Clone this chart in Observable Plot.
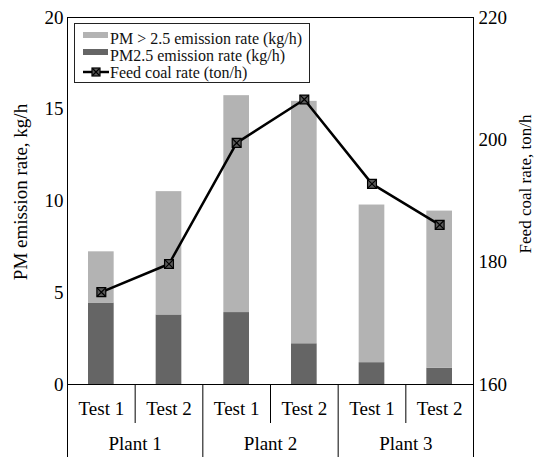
<!DOCTYPE html>
<html><head><meta charset="utf-8">
<script src="https://cdn.jsdelivr.net/npm/d3@7"></script>
<script src="https://cdn.jsdelivr.net/npm/@observablehq/plot@0.6"></script>
<style>
html,body{margin:0;padding:0;background:#fff;}
#wrap{position:relative;width:537px;height:457px;font-family:"Liberation Serif","DejaVu Serif","Noto Serif","Times New Roman",serif;color:#000;}
#wrap svg{display:block;}
.abs{position:absolute;}
.lg-box{left:74px;top:23px;width:236px;height:60px;border:1px solid #222;box-sizing:border-box;}
.lg-text{left:110px;font-size:16px;line-height:17px;white-space:nowrap;color:#111;}
.sw{left:83px;width:25px;height:6px;}
</style>
</head><body>
<div id="wrap"></div>
<script>
// ---- data ----
const categories = ["P1T1", "P1T2", "P2T1", "P2T2", "P3T1", "P3T2"];
const testLabels = ["Test 1", "Test 2", "Test 1", "Test 2", "Test 1", "Test 2"];
const plantLabels = ["Plant 1", "Plant 2", "Plant 3"];
const pm25 = [4.44, 3.79, 3.92, 2.22, 1.19, 0.89];          // PM2.5 emission rate (kg/h)
const pmCoarse = [2.79, 6.72, 11.82, 13.21, 8.59, 8.56];    // PM > 2.5 emission rate (kg/h)
const coalRate = [175.1, 179.7, 199.5, 206.6, 192.8, 186.1]; // Feed coal rate (ton/h)
const leftTicks = [0, 5, 10, 15, 20];
const rightTicks = [160, 180, 200, 220];
const seriesNames = ["PM2.5", "PM>2.5"];
const seriesColors = ["#656565", "#b3b3b3"];

// ---- derived tables ----
const coalToLeft = d3.scaleLinear([160, 220], [0, 20]);
const bars = [];
categories.forEach((c, i) => bars.push({i, series: "PM2.5", value: pm25[i]}));
categories.forEach((c, i) => bars.push({i, series: "PM>2.5", value: pmCoarse[i]}));
const coal = coalRate.map((v, i) => ({pos: i + 0.5, v: coalToLeft(v)}));
const testCenters = categories.map((_, i) => i + 0.5);
const testDividers = d3.range(1, categories.length, 2);
const plantDividers = d3.range(0, categories.length + 1, 2);
const plantCenters = plantLabels.map((_, p) => 2 * p + 1);
const serif = "Liberation Serif, DejaVu Serif, Noto Serif, Times New Roman, serif";

const plot = Plot.plot({
  width: 537,
  height: 457,
  marginLeft: 67,
  marginRight: 64,
  marginTop: 17,
  marginBottom: 73,
  style: {fontFamily: serif, fontSize: "19px", color: "black", background: "white"},
  x: {type: "linear", domain: [0, categories.length]},
  y: {domain: [0, 20]},
  color: {domain: seriesNames, range: seriesColors},
  marks: [
    Plot.rectY(bars, {x: "i", interval: 1, y: "value", fill: "series", insetLeft: 21, insetRight: 21}),
    Plot.line(coal, {x: "pos", y: "v", stroke: "black", strokeWidth: 2.5}),
    Plot.dot(coal, {x: "pos", y: "v", symbol: "square", r: 5, fill: "#5a5a5a", stroke: "black", strokeWidth: 1.2}),
    Plot.dot(coal, {x: "pos", y: "v", symbol: "times", r: 4, stroke: "black", strokeWidth: 1.2}),
    Plot.frame({stroke: "black"}),
    Plot.axisY({ticks: leftTicks, anchor: "left", tickSize: 0, tickPadding: 4, label: null, fontFamily: serif}),
    Plot.axisY({ticks: rightTicks.map(coalToLeft), anchor: "right", tickSize: 0, tickPadding: 5,
      tickFormat: d => Math.round(coalToLeft.invert(d)), label: null, fontFamily: serif}),
    Plot.axisX({ticks: plantDividers, tickSize: 73, tickFormat: () => "", label: null}),
    Plot.axisX({ticks: testDividers, tickSize: 39, tickFormat: () => "", label: null}),
    Plot.axisX({ticks: testCenters, tickSize: 0, tickPadding: 17, tickFormat: d => testLabels[Math.floor(d)], label: null, fontFamily: serif}),
    Plot.axisX({ticks: plantCenters, tickSize: 0, tickPadding: 52, tickFormat: d => plantLabels[(d - 1) / 2], label: null, fontFamily: serif}),
    Plot.text(["PM emission rate, kg/h"], {text: d => d, frameAnchor: "left", textAnchor: "middle", rotate: -90, dx: -47, dy: -9, fontSize: 19, fontFamily: serif}),
    Plot.text(["Feed coal rate, ton/h"], {text: d => d, frameAnchor: "right", textAnchor: "middle", rotate: -90, dx: 52, dy: -17, fontSize: 17, fontFamily: serif})
  ]
});
const wrap = document.getElementById("wrap");
wrap.append(plot);

// ---- legend (inside the plot area) ----
const legendItems = ["PM > 2.5 emission rate (kg/h)", "PM2.5 emission rate (kg/h)", "Feed coal rate (ton/h)"];
function el(cls, style, html) {
  const d = document.createElement("div");
  d.className = "abs " + cls;
  Object.assign(d.style, style);
  if (html) d.innerHTML = html;
  wrap.append(d);
  return d;
}
el("lg-box", {});
el("sw", {top: "31.5px", background: seriesColors[1]});
el("sw", {top: "49px", background: seriesColors[0]});
el("", {left: "82px", top: "65px", width: "28px", height: "14px"},
  '<svg width="28" height="14"><line x1="1" x2="27" y1="7" y2="7" stroke="black" stroke-width="2.5"/>' +
  '<rect x="10" y="3" width="8" height="8" fill="#5a5a5a" stroke="black" stroke-width="1.2"/>' +
  '<path d="M10.5 3.5L17.5 10.5M17.5 3.5L10.5 10.5" stroke="black" stroke-width="1.2"/></svg>');
[29.5, 46.7, 64.4].forEach((t, k) => el("lg-text", {top: t + "px"}, "").textContent = legendItems[k]);
</script>
</body></html>
